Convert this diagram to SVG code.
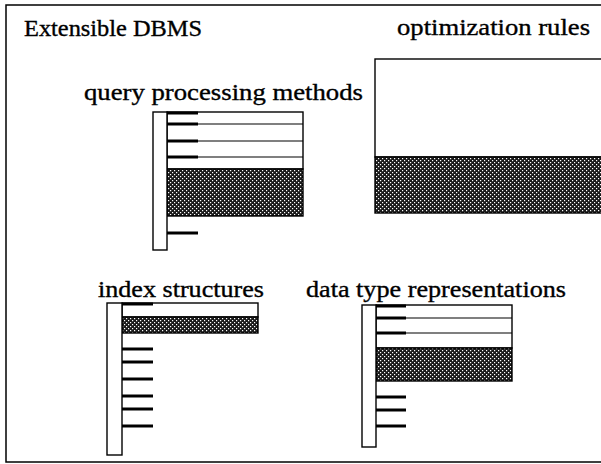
<svg xmlns="http://www.w3.org/2000/svg" width="601" height="464" viewBox="0 0 601 464">
<style>
text{font-family:"Liberation Serif","Times New Roman",serif;font-size:23px;fill:#000;stroke:#000;stroke-width:0.35}
.box{fill:#fff;stroke:#000;stroke-width:1.4}
.hat{fill:url(#dots);stroke:#000;stroke-width:1.4}
.ln{stroke:#000;stroke-width:1.2;fill:none}
.tk{stroke:#000;stroke-width:3;fill:none}
</style>
<defs>
<pattern id="dots" width="4" height="4" patternUnits="userSpaceOnUse">
<rect width="4" height="4" fill="#1a1a1a"/>
<rect x="0" y="0" width="1.2" height="1.2" fill="#fff"/>
<rect x="2" y="2" width="1.2" height="1.2" fill="#fff"/>
</pattern>
</defs>
<rect id="frame" x="6" y="5" width="610" height="457" fill="#fff" stroke="#000" stroke-width="1.5"/>
<g id="title"><text x="24" y="36" textLength="178" lengthAdjust="spacingAndGlyphs">Extensible DBMS</text></g>

<g id="optimization-rules">
<text x="397" y="35" textLength="193" lengthAdjust="spacingAndGlyphs">optimization rules</text>
<rect class="box" x="375" y="59" width="240" height="98"/>
<rect class="hat" x="375" y="157" width="240" height="56"/>
</g>

<g id="query-processing-methods">
<text x="84" y="100" textLength="279" lengthAdjust="spacingAndGlyphs">query processing methods</text>
<rect class="box" x="167" y="112" width="136" height="57"/>
<line class="ln" x1="167" y1="124" x2="303" y2="124"/>
<line class="ln" x1="167" y1="141" x2="303" y2="141"/>
<line class="ln" x1="167" y1="157" x2="303" y2="157"/>
<rect class="hat" x="167" y="169" width="136" height="47"/>
<rect class="box" x="153" y="112" width="14" height="138"/>
<line class="tk" x1="167" y1="113" x2="198" y2="113"/>
<line class="tk" x1="167" y1="124" x2="198" y2="124"/>
<line class="tk" x1="167" y1="141" x2="198" y2="141"/>
<line class="tk" x1="167" y1="157" x2="198" y2="157"/>
<line class="tk" x1="167" y1="233" x2="198" y2="233"/>
</g>

<g id="index-structures">
<text x="98" y="297" textLength="166" lengthAdjust="spacingAndGlyphs">index structures</text>
<rect class="box" x="122" y="303" width="136" height="14"/>
<rect class="hat" x="122" y="317" width="136" height="16"/>
<rect class="box" x="107" y="303" width="15" height="152"/>
<line class="tk" x1="122" y1="304" x2="153" y2="304"/>
<line class="tk" x1="122" y1="349" x2="153" y2="349"/>
<line class="tk" x1="122" y1="362" x2="153" y2="362"/>
<line class="tk" x1="122" y1="379" x2="153" y2="379"/>
<line class="tk" x1="122" y1="396" x2="153" y2="396"/>
<line class="tk" x1="122" y1="409" x2="153" y2="409"/>
<line class="tk" x1="122" y1="426" x2="153" y2="426"/>
</g>

<g id="data-type-representations">
<text x="306" y="297" textLength="260" lengthAdjust="spacingAndGlyphs">data type representations</text>
<rect class="box" x="376" y="305" width="136" height="43"/>
<line class="ln" x1="376" y1="318" x2="512" y2="318"/>
<line class="ln" x1="376" y1="333" x2="512" y2="333"/>
<rect class="hat" x="376" y="348" width="136" height="33"/>
<rect class="box" x="362" y="305" width="14" height="142"/>
<line class="tk" x1="376" y1="306" x2="406" y2="306"/>
<line class="tk" x1="376" y1="318" x2="406" y2="318"/>
<line class="tk" x1="376" y1="333" x2="406" y2="333"/>
<line class="tk" x1="376" y1="397" x2="406" y2="397"/>
<line class="tk" x1="376" y1="410" x2="406" y2="410"/>
<line class="tk" x1="376" y1="426" x2="406" y2="426"/>
</g>
<g id="connectors"></g>
</svg>
